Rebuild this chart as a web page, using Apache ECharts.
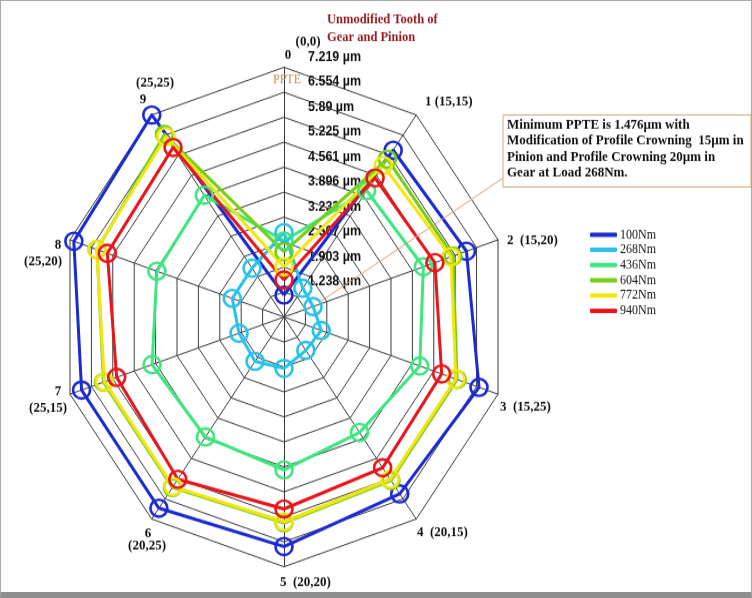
<!DOCTYPE html>
<html>
<head>
<meta charset="utf-8">
<script src="https://cdn.jsdelivr.net/npm/echarts@6/dist/echarts.min.js"></script>
<style>
  html, body { margin: 0; padding: 0; background: #fff; }
  #main { position: absolute; left: 0; top: 0; width: 752px; height: 539px; transform: scaleY(1.11); transform-origin: 0 0; }
  #frame { position: absolute; left: 0; top: 0; width: 752px; height: 598px; box-sizing: border-box;
           border: 1px solid #a8a8a8; border-bottom: 6px solid #8e8e8e; pointer-events: none; }
</style>
</head>
<body>
<div id="main"></div>
<div id="frame"></div>
<script>
// Radar of peak-to-peak transmission error (PPTE) for the ten crowning cases
const SY = 1.11; // vertical stretch of the drawing

const caseNumbers = ['0', '1', '2', '3', '4', '5', '6', '7', '8', '9'];
const caseCodes = ['(0,0)', '(15,15)', '(15,20)', '(15,25)', '(20,15)', '(20,20)', '(20,25)', '(25,15)', '(25,20)', '(25,25)'];
const tickLabels = ['1.238 µm', '1.903 µm', '2.567 µm', '3.232 µm', '3.896 µm', '4.561 µm', '5.225 µm', '5.89 µm', '6.554 µm', '7.219 µm'];
const loads = ['100Nm', '268Nm', '436Nm', '604Nm', '772Nm', '940Nm'];

// PPTE in µm per case 0..9
const ppte100 = [1.16, 6.06, 6.24, 6.63, 6.39, 6.68, 6.86, 6.86, 7.10, 7.219];
const ppte268 = [2.82, 1.52, 1.476, 1.73, 1.67, 1.94, 2.03, 1.97, 2.18, 2.18];
const ppte436 = [2.60, 4.73, 4.90, 4.79, 4.37, 4.64, 4.52, 4.67, 4.52, 4.58];
const ppte604 = [2.31, 5.77, 5.82, 5.95, 5.95, 6.05, 6.18, 6.18, 6.38, 6.58];
const ppte772 = [1.91, 5.56, 5.76, 5.91, 5.91, 6.02, 6.15, 6.15, 6.39, 6.51];
const ppte940 = [1.56, 5.15, 5.26, 5.47, 5.53, 5.68, 5.91, 5.77, 6.06, 6.15];

const AXIS_MIN = 0.5735;
const AXIS_MAX = 7.219;
const AXIS_STEP = (AXIS_MAX - AXIS_MIN) / 10;

const seriesValues = [ppte100, ppte268, ppte436, ppte604, ppte772, ppte940];
const colors = ['#1b2bd0', '#27c2ea', '#3fe57e', '#74cf16', '#f3e610', '#e8151b'];

// ECharts lays indicators counter-clockwise; reorder so case numbers run clockwise
const order = [0, 9, 8, 7, 6, 5, 4, 3, 2, 1];

const RING = 'path://M0,50A50,50,0,1,1,100,50A50,50,0,1,1,0,50Z';
const serif = '"Liberation Serif", "Times New Roman", serif';
const sans = '"Liberation Sans", Arial, sans-serif';

function Y(v) { return v / SY; }

// label placement for case names (x, y of text anchor)
const nameLayout = [
  [{ t: caseNumbers[0], x: 288, y: 55, a: 'center' }, { t: caseCodes[0], x: 308, y: 42, a: 'center' }],
  [{ t: caseNumbers[1] + ' ' + caseCodes[1], x: 425, y: 102, a: 'left' }],
  [{ t: caseNumbers[2] + '  ' + caseCodes[2], x: 507, y: 240, a: 'left' }],
  [{ t: caseNumbers[3] + '  ' + caseCodes[3], x: 500, y: 407, a: 'left' }],
  [{ t: caseNumbers[4] + '  ' + caseCodes[4], x: 417, y: 532, a: 'left' }],
  [{ t: caseNumbers[5] + '  ' + caseCodes[5], x: 280, y: 582, a: 'left' }],
  [{ t: caseNumbers[6], x: 148, y: 533, a: 'center' }, { t: caseCodes[6], x: 147, y: 546, a: 'center' }],
  [{ t: caseNumbers[7], x: 58, y: 391, a: 'center' }, { t: caseCodes[7], x: 48, y: 408, a: 'center' }],
  [{ t: caseNumbers[8], x: 58, y: 245, a: 'center' }, { t: caseCodes[8], x: 43, y: 262, a: 'center' }],
  [{ t: caseNumbers[9], x: 143, y: 100, a: 'center' }, { t: caseCodes[9], x: 155, y: 83, a: 'center' }]
];

const noteLines = ['Minimum PPTE is 1.476µm with', 'Modification of Profile Crowning  15µm in', 'Pinion and Profile Crowning 20µm in', 'Gear at Load 268Nm.'];
const titleLines = ['Unmodified Tooth of', 'Gear and Pinion'];

const graphics = [];
nameLayout.forEach(function (items) {
  items.forEach(function (it) {
    graphics.push({ type: 'text', x: it.x, y: Y(it.y), z: 10,
      style: { text: it.t, font: 'bold 13px ' + serif, fill: '#111', align: it.a, verticalAlign: 'middle' } });
  });
});
titleLines.forEach(function (t, i) {
  graphics.push({ type: 'text', x: 327, y: Y(20 + i * 17), z: 10,
    style: { text: t, font: 'bold 12.5px ' + serif, fill: '#961b1f', align: 'left', verticalAlign: 'middle' } });
});
graphics.push({ type: 'text', x: 287, y: Y(80), z: 10,
  style: { text: 'PPTE', font: '12px ' + serif, fill: '#c98a55', align: 'center', verticalAlign: 'middle' } });
graphics.push({ type: 'rect', z: 10, shape: { x: 503, y: Y(115), width: 248, height: Y(72) },
  style: { fill: '#fff', stroke: '#d4a878', lineWidth: 1 } });
noteLines.forEach(function (t, i) {
  graphics.push({ type: 'text', x: 507, y: Y(125 + i * 16), z: 11,
    style: { text: t, font: 'bold 13px ' + serif, fill: '#111', align: 'left', verticalAlign: 'middle' } });
});

const chart = echarts.init(document.getElementById('main'), null, { renderer: 'canvas' });

chart.setOption({
  animation: false,
  backgroundColor: 'transparent',
  legend: {
    orient: 'vertical', left: 590, top: Y(228), padding: 0,
    icon: 'roundRect', itemWidth: 27, itemHeight: 4, itemGap: 1.7,
    itemStyle: { borderWidth: 0 },
    textStyle: { fontFamily: serif, fontSize: 12, lineHeight: 12, color: '#111', padding: [0, 0, 0, -2] },
    data: loads.map(function (n, i) { return { name: n, itemStyle: { color: colors[i] } }; })
  },
  radar: {
    center: [284, Y(317)],
    radius: 225,
    startAngle: 90,
    shape: 'polygon',
    splitNumber: 10,
    axisName: { show: false },
    splitArea: { show: false },
    splitLine: { lineStyle: { color: '#3a3a3a', width: 1 } },
    axisLine: { lineStyle: { color: '#3a3a3a', width: 1 } },
    axisTick: { show: false },
    axisLabel: { show: false },
    indicator: order.map(function (k, j) {
      return {
        name: '', min: AXIS_MIN, max: AXIS_MAX,
        axisLabel: j === 0 ? {
          show: true, margin: -24, align: 'left', verticalAlign: 'bottom', padding: [0, 0, 3, 0],
          color: '#111', fontWeight: 'bold', fontSize: 12.5, fontFamily: sans,
          showMinLabel: false,
          formatter: function (v) {
            const i = Math.round((v - AXIS_MIN) / AXIS_STEP);
            return i >= 1 ? tickLabels[i - 1] : '';
          }
        } : { show: false }
      };
    })
  },
  series: loads.map(function (n, s) {
    return {
      type: 'radar',
      name: n,
      symbol: RING,
      symbolSize: [17, Y(17)],
      itemStyle: { color: 'rgba(0,0,0,0)', borderColor: colors[s], borderWidth: 2.5 },
      lineStyle: { color: colors[s], width: 3 },
      emphasis: { disabled: true },
      data: [{ name: n, value: order.map(function (k) { return seriesValues[s][k]; }) }]
    };
  }),
  graphic: graphics
});

// leader line from the note box to the minimum-PPTE point (268Nm, case 2)
try {
  const rc = chart.getModel().getComponent('radar', 0).coordinateSystem;
  const p = rc.dataToPoint(ppte268[2], order.indexOf(2));
  const bx = 503, by = Y(178);
  const dx = bx - p[0], dy = by - p[1];
  const d = Math.sqrt(dx * dx + dy * dy);
  const sx = p[0] + dx / d * 8, sy = p[1] + dy / d * 8;
  chart.setOption({ graphic: graphics.concat([{ type: 'line', z: 9,
    shape: { x1: sx, y1: sy, x2: bx, y2: by }, style: { stroke: '#d8a27a', lineWidth: 1 } }]) });
} catch (e) { }
</script>
</body>
</html>
